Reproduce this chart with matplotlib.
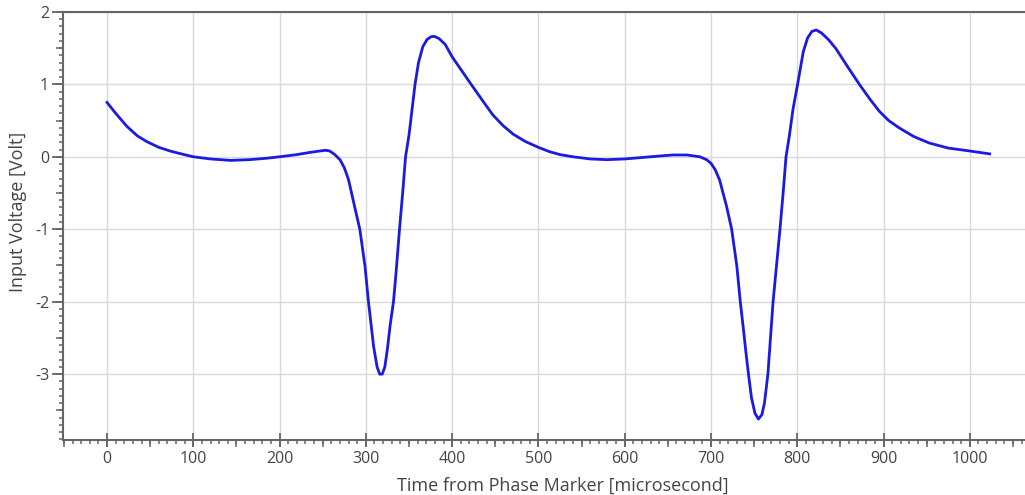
import numpy as np
import matplotlib
matplotlib.use("Agg")
import matplotlib.pyplot as plt
from matplotlib.ticker import MultipleLocator

# values
t_us = [0, 10, 23, 35, 46, 60, 73, 86, 100, 120, 143, 165, 185, 200, 220, 235, 247, 253, 258,
        264, 270, 275, 280, 287, 293, 299, 303, 309, 313, 316, 319, 322, 325, 328, 332, 335,
        339, 343, 346, 350, 354, 357, 361, 366, 371, 376, 380, 385, 392, 400, 411, 422, 435,
        447, 459, 471, 485, 500, 513, 525, 540, 560, 579, 600, 620, 640, 656, 672, 687, 695,
        700, 705, 710, 718, 724, 730, 734, 738, 741, 744, 747, 751, 755, 759, 762, 766, 769,
        772, 776, 780, 784, 787, 791, 795, 801, 807, 812, 817, 822, 828, 836, 845, 858, 872,
        884, 895, 906, 918, 935, 953, 975, 1000, 1023]
volt = [0.75, 0.60, 0.42, 0.29, 0.21, 0.13, 0.08, 0.04, 0.00, -0.03, -0.05, -0.04, -0.02, 0.00,
        0.03, 0.06, 0.08, 0.09, 0.08, 0.03, -0.04, -0.15, -0.32, -0.69, -1.00, -1.51, -2.00,
        -2.62, -2.90, -3.00, -3.00, -2.90, -2.65, -2.34, -2.00, -1.60, -1.00, -0.45, 0.00,
        0.30, 0.70, 1.00, 1.30, 1.52, 1.62, 1.66, 1.66, 1.63, 1.55, 1.38, 1.19, 1.00, 0.78,
        0.58, 0.43, 0.31, 0.21, 0.13, 0.07, 0.03, 0.00, -0.03, -0.04, -0.03, -0.01, 0.01,
        0.025, 0.025, 0.00, -0.04, -0.09, -0.18, -0.32, -0.68, -1.00, -1.51, -2.00, -2.42,
        -2.75, -3.05, -3.33, -3.54, -3.62, -3.56, -3.40, -3.00, -2.50, -2.00, -1.50, -1.00,
        -0.45, 0.00, 0.30, 0.65, 1.04, 1.45, 1.64, 1.73, 1.75, 1.71, 1.62, 1.49, 1.25, 1.00,
        0.80, 0.63, 0.50, 0.40, 0.28, 0.19, 0.12, 0.08, 0.04]

plt.rcParams['font.family'] = ['Open Sans', 'DejaVu Sans']
plt.rcParams['axes.unicode_minus'] = False

txt = '#444444'
spc = '#666666'

fig = plt.figure(figsize=(10.25, 4.95), dpi=100)
ax = fig.add_axes([0.0615, 0.111, 0.9385, 0.865])
ax.plot(t_us, volt, color='#1a1ae0', lw=2.0)

ax.set_xlim(-51, 1064)
ax.set_ylim(-3.91, 2.0)
ax.xaxis.set_major_locator(MultipleLocator(100))
ax.xaxis.set_minor_locator(MultipleLocator(10))
ax.yaxis.set_major_locator(MultipleLocator(1))
ax.yaxis.set_minor_locator(MultipleLocator(0.1))
ax.grid(True, which='major', color='#d9d9d9', lw=1)

ax.tick_params(axis='x', which='major', direction='inout', length=10, width=1.3, color=spc,
               labelsize=11.5, labelcolor=txt, pad=3)
ax.tick_params(axis='y', which='major', direction='out', length=8, width=1.3, color=spc,
               labelsize=11.5, labelcolor=txt, pad=2)
ax.tick_params(which='minor', direction='out', length=3, width=1.1, color=spc)

# half-way ticks (50 us, 0.5 V)
sx = ax.secondary_xaxis('bottom')
sx.xaxis.set_major_locator(MultipleLocator(50))
sx.tick_params(direction='out', length=5, width=1.1, color=spc, labelbottom=False)
sx.spines['bottom'].set_visible(False)
sy = ax.secondary_yaxis('left')
sy.yaxis.set_major_locator(MultipleLocator(0.5))
sy.tick_params(direction='out', length=5, width=1.1, color=spc, labelleft=False)
sy.spines['left'].set_visible(False)

for s in ['left', 'bottom', 'top']:
    ax.spines[s].set_color(spc)
    ax.spines[s].set_linewidth(1.5)
ax.spines['right'].set_visible(False)

ax.set_xlabel('Time from Phase Marker [microsecond]', fontsize=13, color=txt)
ax.set_ylabel('Input Voltage [Volt]', fontsize=13, color=txt)
ax.xaxis.set_label_coords(0.52, -0.085)
ax.yaxis.set_label_coords(-0.037, 0.533)

fig.savefig('out.png', dpi=100)
